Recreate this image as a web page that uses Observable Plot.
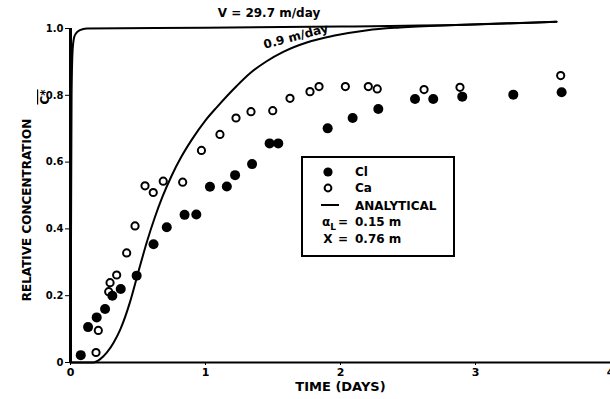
<!DOCTYPE html>
<html><head><meta charset="utf-8">
<script src="https://cdn.jsdelivr.net/npm/d3@7"></script>
<script src="https://cdn.jsdelivr.net/npm/@observablehq/plot@0.6"></script>
<style>body{margin:0;background:#fff}</style>
</head><body><div id="chart"></div>
<script>
// Cl (filled circles)
const clTime = [0.076, 0.13, 0.194, 0.256, 0.31, 0.372, 0.49, 0.615, 0.713, 0.845, 0.932, 1.033, 1.158, 1.219, 1.345, 1.475, 1.539, 1.905, 2.09, 2.28, 2.552, 2.687, 2.902, 3.28, 3.638];
const clConc = [0.022, 0.106, 0.135, 0.16, 0.20, 0.22, 0.26, 0.354, 0.405, 0.442, 0.443, 0.526, 0.527, 0.561, 0.594, 0.656, 0.656, 0.701, 0.732, 0.759, 0.789, 0.789, 0.796, 0.802, 0.809];
// Ca (open circles)
const caTime = [0.189, 0.206, 0.283, 0.293, 0.342, 0.416, 0.478, 0.552, 0.613, 0.687, 0.831, 0.97, 1.107, 1.226, 1.337, 1.498, 1.626, 1.774, 1.841, 2.036, 2.206, 2.272, 2.619, 2.885, 3.631];
const caConc = [0.03, 0.096, 0.212, 0.239, 0.262, 0.328, 0.409, 0.529, 0.509, 0.543, 0.54, 0.635, 0.683, 0.732, 0.751, 0.754, 0.791, 0.811, 0.826, 0.826, 0.826, 0.819, 0.817, 0.824, 0.859];
// Analytical curve, V = 29.7 m/day
const fastTime = [0, 0.004, 0.008, 0.015, 0.025, 0.04, 0.07, 0.12, 1.0, 2.0, 3.0, 3.6];
const fastConc = [0, 0.4, 0.8, 0.93, 0.97, 0.985, 0.995, 1.0, 1.002, 1.006, 1.012, 1.02];
// Analytical curve, V = 0.9 m/day
const slowTime = [0, 0.17, 0.22, 0.27, 0.32, 0.37, 0.44, 0.495, 0.565, 0.625, 0.68, 0.75, 0.82, 0.9, 1.0, 1.083, 1.231, 1.33, 1.453, 1.576, 1.75, 1.947, 2.2, 2.44, 2.8, 3.2, 3.6];
const slowConc = [0, 0, 0.01, 0.03, 0.06, 0.1, 0.18, 0.26, 0.36, 0.435, 0.495, 0.56, 0.615, 0.668, 0.725, 0.764, 0.828, 0.866, 0.902, 0.93, 0.958, 0.978, 0.995, 1.003, 1.01, 1.015, 1.02];

const xTicks = [0, 1, 2, 3, 4];
const xTickLabels = ["0", "1", "2", "3", "4"];
const yTicks = [0, 0.2, 0.4, 0.6, 0.8, 1.0];
const yTickLabels = ["0", "0.2", "0.4", "0.6", "0.8", "1.0"];

const curveLabels = ["V = 29.7 m/day", "0.9 m/day"];
const curveLabelTime = [1.47, 1.67];
const curveLabelConc = [1.0, 0.955];
const curveLabelRotate = [0, -15];
const curveLabelDy = [-15, -7];

const cl = clTime.map((t, i) => ({t, c: clConc[i]}));
const ca = caTime.map((t, i) => ({t, c: caConc[i]}));
const fast = fastTime.map((t, i) => ({t, c: fastConc[i]}));
const slow = slowTime.map((t, i) => ({t, c: slowConc[i]}));
const ann = curveLabels.map((s, i) => ({s, t: curveLabelTime[i], c: curveLabelConc[i], r: curveLabelRotate[i], dy: curveLabelDy[i]}));

const FONT = "'DejaVu Sans', sans-serif";

const plot = Plot.plot({
  width: 610,
  height: 399,
  marginLeft: 70,
  marginRight: 0,
  marginTop: 28,
  marginBottom: 37,
  style: {fontFamily: FONT, fontWeight: "bold", fontSize: "10px", background: "#fff", color: "#000", overflow: "visible"},
  x: {domain: [0, 4]},
  y: {domain: [0, 1]},
  marks: [
    Plot.axisX({ticks: xTicks, tickFormat: (d) => xTickLabels[xTicks.indexOf(d)], tickSize: 3, tickPadding: 3, fontSize: 11, label: "TIME (DAYS)", labelAnchor: "center", labelArrow: "none", labelOffset: 28}),
    Plot.axisY({ticks: yTicks, tickFormat: (d) => yTickLabels[yTicks.indexOf(d)], tickSize: 5, tickPadding: 2, fontSize: 10, label: null}),
    Plot.ruleY([0], {stroke: "#000", strokeWidth: 2}),
    Plot.ruleX([0], {y1: 0, y2: 1, stroke: "#000", strokeWidth: 3}),
    Plot.line(fast, {x: "t", y: "c", stroke: "#000", strokeWidth: 2, curve: "monotone-x"}),
    Plot.line(slow, {x: "t", y: "c", stroke: "#000", strokeWidth: 2, curve: "monotone-x"}),
    Plot.dot(ca, {x: "t", y: "c", r: 3.6, stroke: "#000", strokeWidth: 2, fill: "#fff"}),
    Plot.dot(cl, {x: "t", y: "c", r: 5, fill: "#000", stroke: "none"}),
    Plot.text(ann.slice(0, 1), {x: "t", y: "c", text: "s", dy: -15, fontSize: 12, fontWeight: "bold", fill: "#000"}),
    Plot.text(ann.slice(1), {x: "t", y: "c", text: "s", rotate: -15, dy: -7, fontSize: 12, fontWeight: "bold", fill: "#000"})
  ]
});

document.getElementById("chart").appendChild(plot);

const svg = d3.select(plot);
svg.selectAll("g[aria-label='x-axis label'] text").attr("font-size", 13);

// Y axis title
const yl = svg.append("g").attr("font-family", FONT).attr("font-weight", "bold").attr("fill", "#000").attr("text-anchor", "middle");
yl.append("text").attr("transform", "translate(31,210) rotate(-90)")
  .attr("font-size", 12).text("RELATIVE CONCENTRATION");
const cs = yl.append("text").attr("transform", "translate(49,97) rotate(-90)").attr("font-size", 12);
cs.append("tspan").style("text-decoration", "overline").text("C*");

// Legend box
const lg = svg.append("g").attr("font-family", FONT).attr("font-weight", "bold").attr("font-size", 12).attr("fill", "#000").attr("text-anchor", "start");
lg.append("rect").attr("x", 302).attr("y", 157).attr("width", 152).attr("height", 99)
  .attr("fill", "none").attr("stroke", "#000").attr("stroke-width", 2);
lg.append("circle").attr("cx", 328).attr("cy", 172).attr("r", 4.6).attr("fill", "#000");
lg.append("text").attr("x", 355).attr("y", 176).text("Cl");
lg.append("circle").attr("cx", 328).attr("cy", 188).attr("r", 3.4).attr("fill", "#fff").attr("stroke", "#000").attr("stroke-width", 2);
lg.append("text").attr("x", 355).attr("y", 192).text("Ca");
lg.append("line").attr("x1", 321).attr("x2", 339).attr("y1", 205).attr("y2", 205).attr("stroke", "#000").attr("stroke-width", 2);
lg.append("text").attr("x", 355).attr("y", 210).text("ANALYTICAL");
const a = lg.append("text").attr("x", 322).attr("y", 226);
a.append("tspan").text("α");
a.append("tspan").attr("font-size", 9).attr("dy", 4).text("L");
lg.append("text").attr("x", 343).attr("y", 226).attr("text-anchor", "middle").text("=");
lg.append("text").attr("x", 355).attr("y", 226).text("0.15 m");
lg.append("text").attr("x", 328).attr("y", 243).attr("text-anchor", "middle").text("X");
lg.append("text").attr("x", 343).attr("y", 243).attr("text-anchor", "middle").text("=");
lg.append("text").attr("x", 355).attr("y", 243).text("0.76 m");
</script>
</body></html>
